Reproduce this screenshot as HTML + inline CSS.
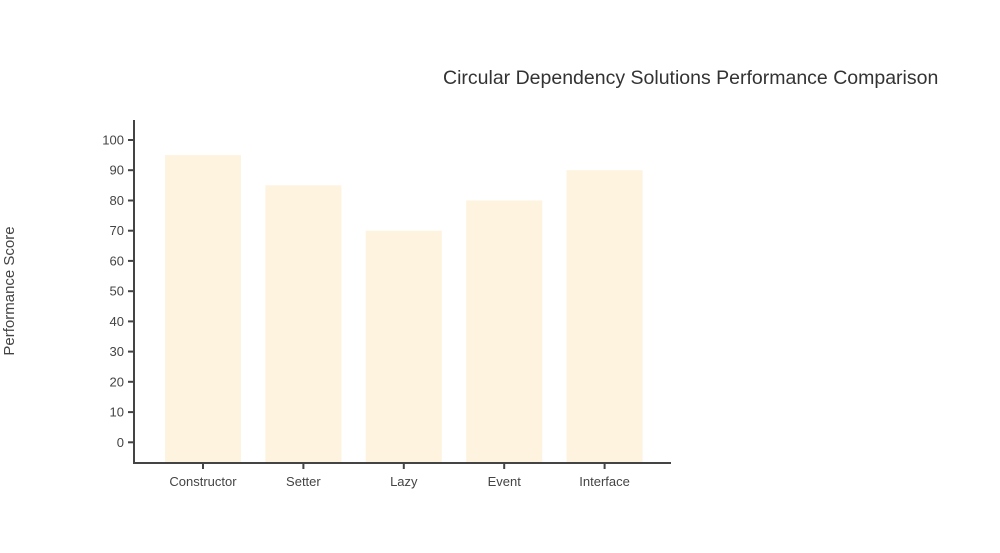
<!DOCTYPE html>
<html>
<head>
<meta charset="utf-8">
<style>
  html, body { margin:0; padding:0; background:#ffffff; }
  svg { display:block; }
  text { font-family: "Liberation Sans", Arial, sans-serif; }
</style>
</head>
<body>
<svg width="1000" height="553" viewBox="0 0 1000 553" xmlns="http://www.w3.org/2000/svg">
  <rect x="0" y="0" width="1000" height="553" fill="#ffffff"/>

  <!-- Title -->
  <text x="443" y="84" font-size="19.5" fill="#333333">Circular Dependency Solutions Performance Comparison</text>

  <!-- Y axis label -->
  <text transform="translate(14,291) rotate(-90)" text-anchor="middle" font-size="15" fill="#444444">Performance Score</text>

  <!-- Bars -->
  <g fill="#fef3de">
    <rect x="165" y="155.1" width="76" height="307"/>
    <rect x="265.4" y="185.3" width="76" height="276.8"/>
    <rect x="365.8" y="230.7" width="76" height="231.4"/>
    <rect x="466.2" y="200.5" width="76" height="261.6"/>
    <rect x="566.6" y="170.2" width="76" height="291.9"/>
  </g>

  <!-- Y axis -->
  <g stroke="#444444" stroke-width="2" fill="none">
    <line x1="134" y1="120" x2="134" y2="464"/>
    <line x1="128" y1="140" x2="134" y2="140"/>
    <line x1="128" y1="170.2" x2="134" y2="170.2"/>
    <line x1="128" y1="200.5" x2="134" y2="200.5"/>
    <line x1="128" y1="230.7" x2="134" y2="230.7"/>
    <line x1="128" y1="260.9" x2="134" y2="260.9"/>
    <line x1="128" y1="291.2" x2="134" y2="291.2"/>
    <line x1="128" y1="321.4" x2="134" y2="321.4"/>
    <line x1="128" y1="351.6" x2="134" y2="351.6"/>
    <line x1="128" y1="381.8" x2="134" y2="381.8"/>
    <line x1="128" y1="412.1" x2="134" y2="412.1"/>
    <line x1="128" y1="442.3" x2="134" y2="442.3"/>
  </g>
  <g font-size="13" fill="#444444" text-anchor="end">
    <text x="124" y="144.5">100</text>
    <text x="124" y="174.7">90</text>
    <text x="124" y="205">80</text>
    <text x="124" y="235.2">70</text>
    <text x="124" y="265.4">60</text>
    <text x="124" y="295.7">50</text>
    <text x="124" y="325.9">40</text>
    <text x="124" y="356.1">30</text>
    <text x="124" y="386.3">20</text>
    <text x="124" y="416.6">10</text>
    <text x="124" y="446.8">0</text>
  </g>

  <!-- X axis -->
  <g stroke="#444444" stroke-width="2" fill="none">
    <line x1="133" y1="463" x2="671" y2="463"/>
    <line x1="203" y1="463" x2="203" y2="469"/>
    <line x1="303.4" y1="463" x2="303.4" y2="469"/>
    <line x1="403.8" y1="463" x2="403.8" y2="469"/>
    <line x1="504.2" y1="463" x2="504.2" y2="469"/>
    <line x1="604.6" y1="463" x2="604.6" y2="469"/>
  </g>
  <g font-size="13" fill="#444444" text-anchor="middle">
    <text x="203" y="486">Constructor</text>
    <text x="303.4" y="486">Setter</text>
    <text x="403.8" y="486">Lazy</text>
    <text x="504.2" y="486">Event</text>
    <text x="604.6" y="486">Interface</text>
  </g>
</svg>
</body>
</html>
